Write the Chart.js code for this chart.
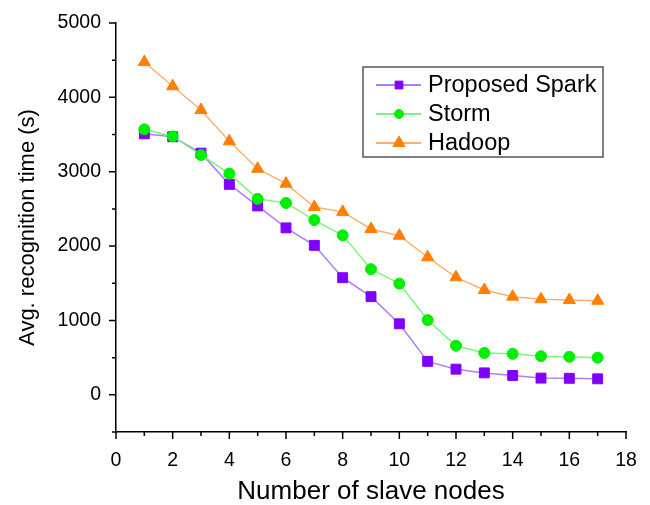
<!DOCTYPE html>
<html>
<head>
<meta charset="utf-8">
<script src="https://cdn.jsdelivr.net/npm/chart.js@4/dist/chart.umd.min.js"></script>
<style>
  body { margin: 0; background: #fff; }
  canvas { display: block; }
</style>
</head>
<body>
<canvas id="chart" width="650" height="505"></canvas>
<script>
// Dados
const nodes = [1, 2, 3, 4, 5, 6, 7, 8, 9, 10, 11, 12, 13, 14, 15, 16, 17];
const spark = [3510, 3470, 3250, 2830, 2540, 2245, 2010, 1575, 1320, 955, 450, 345, 295, 260, 225, 222, 215];
const storm = [3570, 3475, 3225, 2975, 2635, 2580, 2350, 2145, 1690, 1495, 1005, 660, 563, 552, 520, 512, 500];
const hadoop = [4475, 4150, 3830, 3410, 3040, 2840, 2525, 2460, 2230, 2140, 1850, 1580, 1410, 1320, 1285, 1275, 1265];
const seriesNames = ['Proposed Spark', 'Storm', 'Hadoop'];
const xTicks = [0, 2, 4, 6, 8, 10, 12, 14, 16, 18];
const yTicks = [0, 1000, 2000, 3000, 4000, 5000];

const FONT = 'Arial, "Liberation Sans", sans-serif';

function toPoints(values) {
    return values.map((v, i) => ({ x: nodes[i], y: v }));
}

// Marcas de escala (maiores e menores)
const tickMarks = {
    id: 'tickMarks',
    afterDraw(chart) {
        const ctx = chart.ctx;
        const xs = chart.scales.x;
        const ys = chart.scales.y;
        ctx.save();
        ctx.strokeStyle = '#000';
        ctx.lineWidth = 1.5;
        ctx.beginPath();
        for (let v = xs.min; v <= xs.max; v += 1) {
            const px = xs.getPixelForValue(v);
            const len = xTicks.includes(v) ? 7 : 4;
            ctx.moveTo(px, xs.top);
            ctx.lineTo(px, xs.top + len);
        }
        for (let v = ys.min; v <= ys.max; v += 500) {
            const py = ys.getPixelForValue(v);
            const len = yTicks.includes(v) ? 7 : 4;
            ctx.moveTo(ys.right, py);
            ctx.lineTo(ys.right - len, py);
        }
        ctx.stroke();
        ctx.restore();
    }
};

// Legenda com linha + marcador
const boxLegend = {
    id: 'boxLegend',
    afterDraw(chart) {
        const ctx = chart.ctx;
        const left = 363, top = 67, w = 240, h = 90;
        const sizes = [5.5, 4.5, 7];
        ctx.save();
        ctx.fillStyle = '#fff';
        ctx.fillRect(left, top, w, h);
        ctx.strokeStyle = '#555';
        ctx.lineWidth = 1.5;
        ctx.strokeRect(left, top, w, h);
        chart.data.datasets.forEach((ds, i) => {
            const y = 85 + i * 29;
            ctx.strokeStyle = ds.borderColor;
            ctx.lineWidth = 2;
            ctx.beginPath();
            ctx.moveTo(376, y);
            ctx.lineTo(421, y);
            ctx.stroke();
            ctx.fillStyle = ds.pointBackgroundColor;
            ctx.strokeStyle = ds.pointBorderColor;
            ctx.lineWidth = 1;
            Chart.helpers.drawPoint(ctx, { pointStyle: ds.pointStyle, radius: sizes[i], rotation: 0, borderWidth: 1 }, 399, y);
            ctx.fillStyle = '#000';
            ctx.font = '23.5px ' + FONT;
            ctx.textBaseline = 'middle';
            ctx.textAlign = 'left';
            ctx.fillText(ds.label, 428, y + 1);
        });
        ctx.restore();
    }
};

const data = {
    datasets: [{
        label: seriesNames[0],
        data: toPoints(spark),
        borderColor: '#b07cff',
        pointBackgroundColor: '#7f00ff',
        pointBorderColor: '#7f00ff',
        pointStyle: 'rect',
        pointRadius: 7,
        order: 3
    }, {
        label: seriesNames[1],
        data: toPoints(storm),
        borderColor: '#7cf57c',
        pointBackgroundColor: '#00ee00',
        pointBorderColor: '#00ee00',
        pointStyle: 'circle',
        pointRadius: 5.5,
        order: 2
    }, {
        label: seriesNames[2],
        data: toPoints(hadoop),
        borderColor: '#ffb070',
        pointBackgroundColor: '#ff7f00',
        pointBorderColor: '#ff7f00',
        pointStyle: 'triangle',
        pointRadius: 7,
        order: 1
    }]
};

data.datasets.forEach(ds => {
    ds.borderWidth = 1.5;
    ds.pointBorderWidth = 1;
    ds.tension = 0;
    ds.fill = false;
});

const config = {
    type: 'line',
    data: data,
    options: {
        responsive: false,
        animation: false,
        devicePixelRatio: 1,
        layout: { autoPadding: false, padding: { left: 0, right: 24, top: 23, bottom: 0 } },
        plugins: {
            legend: { display: false },
            tooltip: { enabled: false }
        },
        scales: {
            x: {
                type: 'linear',
                min: 0,
                max: 18,
                afterFit(scale) { scale.height = 73; },
                // marcas invisíveis usadas só como espaçamento dos rótulos
                grid: { display: true, drawOnChartArea: false, drawTicks: true, tickLength: 17, color: 'rgba(0,0,0,0)' },
                border: { display: true, color: '#000', width: 1.5 },
                ticks: {
                    stepSize: 2,
                    autoSkip: false,
                    maxRotation: 0,
                    padding: 0,
                    color: '#000',
                    font: { family: FONT, size: 19.5 }
                },
                title: {
                    display: true,
                    text: 'Number of slave nodes',
                    color: '#000',
                    padding: { top: 0, bottom: 0 },
                    font: { family: FONT, size: 26, lineHeight: 1 }
                }
            },
            y: {
                min: -500,
                max: 5000,
                afterFit(scale) { scale.width = 116; },
                grid: { display: true, drawOnChartArea: false, drawTicks: true, tickLength: 15, color: 'rgba(0,0,0,0)' },
                border: { display: true, color: '#000', width: 1.5 },
                ticks: {
                    stepSize: 500,
                    autoSkip: false,
                    padding: 0,
                    color: '#000',
                    font: { family: FONT, size: 19.5 },
                    callback: (v) => yTicks.includes(v) ? String(v) : ''
                },
                title: {
                    display: true,
                    text: 'Avg. recognition time (s)',
                    color: '#000',
                    padding: { top: 15, bottom: 0 },
                    font: { family: FONT, size: 22, lineHeight: 1.2 }
                }
            }
        }
    },
    plugins: [tickMarks, boxLegend]
};

const chart = new Chart(document.getElementById('chart').getContext('2d'), config);
</script>
</body>
</html>
